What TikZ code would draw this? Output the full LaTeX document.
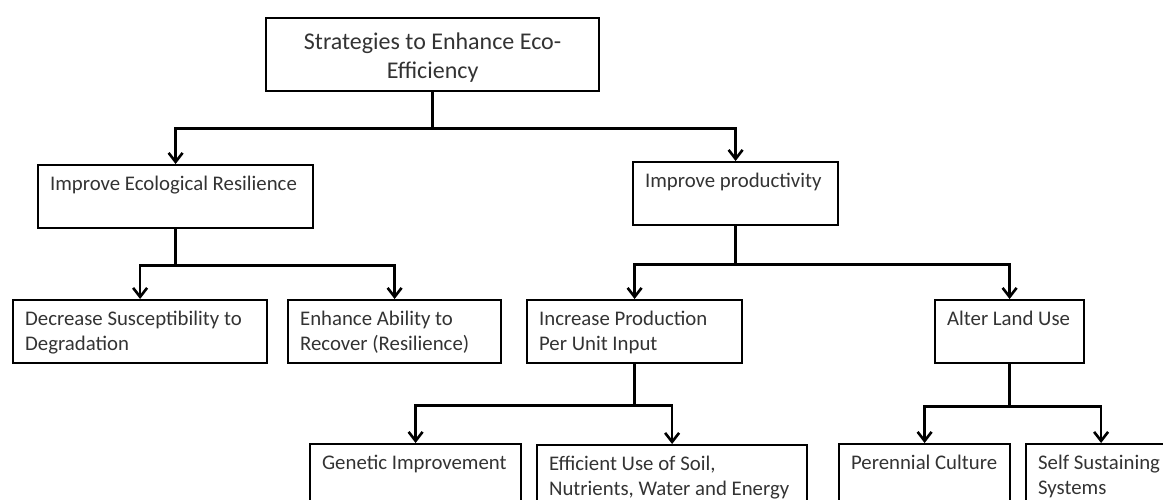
\documentclass[tikz,border=0pt]{standalone}
\usepackage{fontspec}
\setmainfont{Carlito}
\usetikzlibrary{arrows.meta}
\newcommand{\blktext}[3]{\parbox[c][#2pt][t]{#1pt}{\raggedright\strut#3}}
\tikzset{
blk/.style={draw,line width=2.2pt,anchor=north west,inner xsep=12pt,inner ysep=8pt,text=black!80,font=\fontsize{20.8}{25}\selectfont},
link/.style={line width=2.6pt,-{Straight Barb[length=9pt,width=14pt]}}
}
\begin{document}
\begin{tikzpicture}[x=1pt,y=-1pt]
\useasboundingbox(0,0)rectangle(1163,499);\clip(0,0)rectangle(1163,499);
\node[blk](root)at(265,17){\parbox[c][57pt][t]{309pt}{\centering\fontsize{24}{29}\selectfont\vspace*{3pt}\strut Strategies to Enhance Eco-\\Efficiency}};
\node[blk](eco)at(37,164){\blktext{251}{47}{Improve Ecological Resilience}};
\node[blk](prod)at(632,161){\blktext{181}{47}{Improve productivity}};
\node[blk](dec)at(12,299){\blktext{230}{47}{Decrease Susceptibility to\\Degradation}};
\node[blk](enh)at(287,299){\blktext{189}{47}{Enhance Ability to\\Recover (Resilience)}};
\node[blk](inc)at(526,299){\blktext{191}{47}{Increase Production\\Per Unit Input}};
\node[blk](alt)at(934,299){\blktext{125}{47}{Alter Land Use}};
\node[blk](gen)at(309,443){\blktext{187}{47}{Genetic Improvement}};
\node[blk](eff)at(536,444){\blktext{246}{47}{Efficient Use of Soil,\\Nutrients, Water and Energy}};
\node[blk](per)at(838,443){\blktext{147}{47}{Perennial Culture}};
\node[blk](self)at(1025,443){\blktext{126}{47}{Self Sustaining\\Systems}};
\draw[link](root.south)--++(0,36)-|(eco.north);\draw[link](root.south)--++(0,36)-|(prod.north);
\draw[link](eco.south)--++(0,36)-|(dec.north);\draw[link](eco.south)--++(0,36)-|(enh.north);
\draw[link](prod.south)--++(0,38)-|(inc.north);\draw[link](prod.south)--++(0,38)-|(alt.north);
\draw[link](inc.south)--++(0,41)-|(gen.north);\draw[link](inc.south)--++(0,41)-|(eff.north);
\draw[link](alt.south)--++(0,42)-|(per.north);\draw[link](alt.south)--++(0,42)-|(self.north);
\end{tikzpicture}
\end{document}
